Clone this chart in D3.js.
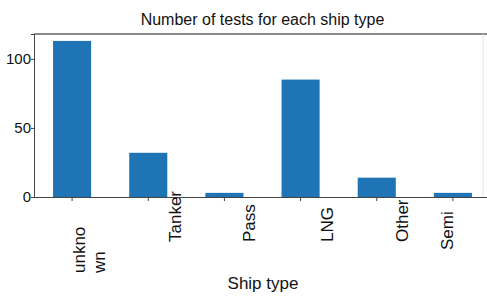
<!DOCTYPE html>
<html><head><meta charset="utf-8">
<script src="https://cdn.jsdelivr.net/npm/d3@7"></script>
<style>body{margin:0;background:#fff}svg{display:block}text{font-family:"Liberation Sans",Arial,sans-serif;fill:#111}</style>
</head><body>
<svg id="c" width="487" height="297"></svg>
<script>
const categories = ["unknown", "Tanker", "Pass", "LNG", "Other", "Semi"];
const labelLines = [["unkno", "wn"], ["Tanker"], ["Pass"], ["LNG"], ["Other"], ["Semi"]];
const counts = [113, 32, 3, 85, 14, 3];
const yTicks = [0, 50, 100];
const titleText = "Number of tests for each ship type";
const xTitle = "Ship type";

// layout (label offsets relative to tick, in px)
const labelDx = [7, 27, 25, 26, 25, -6];
const labelStartY = [273, 242, 242, 242, 242, 250];

(function () {
const svg = d3.select("#c");
const mLeft = 34, mRight = 491, frameRight = 483, mTop = 34, mBottom = 197;

const x = d3.scaleBand().domain(categories).range([mLeft, mRight]).paddingInner(0.5).paddingOuter(0.25);
const y = d3.scaleLinear().domain([0, 118]).range([mBottom, mTop]);

// frame
svg.append("line").attr("x1", mLeft).attr("x2", 487).attr("y1", mTop).attr("y2", mTop)
  .attr("stroke", "#8a8a8a").attr("stroke-width", 2);
svg.append("line").attr("x1", frameRight).attr("x2", frameRight).attr("y1", mTop).attr("y2", mBottom)
  .attr("stroke", "#e4e4e4").attr("stroke-width", 1);

// bars
svg.selectAll("rect.bar").data(categories).join("rect").attr("class", "bar")
  .attr("x", d => x(d)).attr("width", x.bandwidth())
  .attr("y", (d, i) => y(counts[i])).attr("height", (d, i) => mBottom - y(counts[i]))
  .attr("fill", "#1f74b5");

// y axis
const ya = svg.append("g").attr("transform", `translate(${mLeft},0)`)
  .call(d3.axisLeft(y).tickValues(yTicks).tickSize(3).tickPadding(0));
ya.select(".domain").attr("stroke", "#444");
ya.selectAll(".tick line").attr("stroke", "#444");
ya.selectAll("text").style("font-size", "15px").attr("fill", "#111");

// x axis
const xa = svg.append("g").attr("transform", `translate(0,${mBottom})`)
  .call(d3.axisBottom(x).tickSize(4).tickSizeOuter(0).tickFormat(""));
xa.select(".domain").attr("stroke", "#444").attr("d", `M${mLeft},0.5H487`);
xa.selectAll(".tick line").attr("stroke", "#444");

// x tick labels
categories.forEach((c, i) => {
  const cx = x(c) + x.bandwidth() / 2 + labelDx[i];
  labelLines[i].forEach((ln, j) => {
    svg.append("text")
      .attr("transform", `translate(${cx + j * 20},${labelStartY[i]}) rotate(-90)`)
      .attr("dy", "0.35em")
      .attr("text-anchor", "start")
      .style("font-size", "17px")
      .text(ln);
  });
});

// titles
svg.append("text").attr("x", (mLeft + mRight) / 2).attr("y", 25).attr("text-anchor", "middle")
  .style("font-size", "16px").text(titleText);
svg.append("text").attr("x", 263).attr("y", 289).attr("text-anchor", "middle")
  .style("font-size", "17px").text(xTitle);
})();
</script>
</body></html>
